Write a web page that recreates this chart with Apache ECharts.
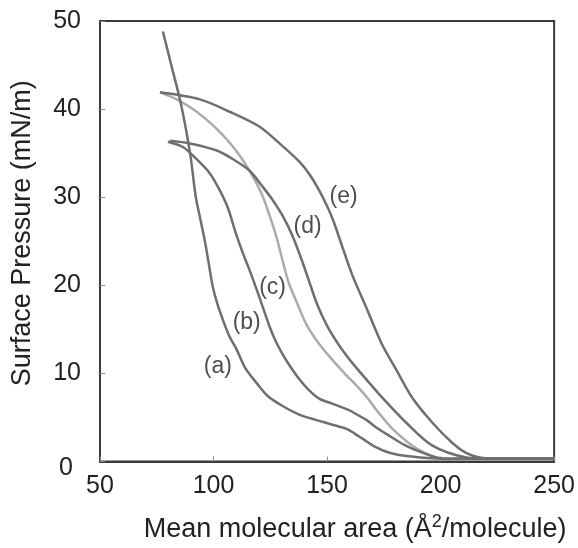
<!DOCTYPE html>
<html>
<head>
<meta charset="utf-8">
<script src="https://cdn.jsdelivr.net/npm/echarts@6/dist/echarts.min.js"></script>
<style>
  html, body { margin: 0; padding: 0; background: #fff; }
  #chart { width: 578px; height: 548px; }
</style>
</head>
<body>
<div id="chart"></div>
<script>
// isotherms: [area, pressure]
const curveA = [[77.7,48.8],[80.8,45.6],[85.2,41.1],[87.8,37.8],[90.0,34.4],[92.2,30.0],[94.2,27.5],[96.2,25.0],[98.0,22.3],[99.7,19.8],[101.8,17.8],[104.1,16.1],[107,14.2],[110.2,12.7],[114,10.6],[119,8.9],[124,7.4],[130.4,6.3],[138,5.3],[145.4,4.7],[152,4.2],[158.6,3.7],[162,3.2],[165.6,2.6],[171,1.7],[177.5,1.0],[186,0.6],[198.1,0.35],[217,0.3],[250,0.3]]
const curveB = [[79.9,36.3],[86.5,35.7],[92.2,34.4],[98.4,32.7],[102.7,30.8],[106.3,28.8],[110.2,25.6],[113,23.6],[115.9,21.7],[118.6,19.8],[121.2,17.9],[124.7,15.3],[127.5,13.6],[130.4,12.2],[134,10.7],[137.9,9.3],[142,8.1],[146.7,7.1],[152,6.6],[159.9,5.8],[164,5.2],[167.4,4.7],[172,3.8],[177.5,2.9],[184,1.9],[192.0,1.0],[200.8,0.35],[217,0.3],[250,0.3]]
const curveC = [[76.4,41.9],[83.8,41.1],[92.6,39.7],[101.4,37.75],[109.3,35.5],[115.9,33.0],[121.2,30.4],[124.7,27.9],[127.8,25.4],[130.4,22.8],[133.1,20.3],[136.6,18.1],[141.0,15.5],[145.8,13.6],[151.1,11.9],[157.7,10.0],[163.4,8.5],[167.8,7.2],[172.2,5.7],[178.8,3.7],[189.3,1.5],[200.8,0.35],[212.6,0.28],[250,0.3]]
const curveD = [[80.8,36.4],[89.6,36.1],[101.4,35.3],[109.3,34.2],[115.9,33.0],[121.6,31.2],[126.0,29.7],[130.4,27.9],[134.8,25.6],[138.8,22.9],[142.3,20.3],[145.4,18.0],[149.8,15.5],[154.2,13.6],[158.6,12.0],[163,10.6],[168,9.1],[173.1,7.6],[184.9,4.4],[196.4,1.8],[211.3,0.45],[221.4,0.3],[250,0.3]]
const curveE = [[76.4,41.9],[94,41.1],[107.1,39.7],[120.3,38.0],[130.4,35.8],[137.9,34.0],[142.5,32.5],[146.7,30.7],[150,29.0],[152.8,27.3],[156.8,24.3],[161.2,21.1],[167.4,17.4],[174,13.4],[180.5,10.4],[187.6,7.2],[196.4,4.4],[205.2,2.1],[211,1.0],[217,0.45],[225.8,0.3],[250,0.3]]

const curveNames = ['(a)', '(b)', '(c)', '(d)', '(e)']
const labelCoords = [[101.9,10.8],[114.6,15.8],[126.0,19.7],[141.4,26.7],[157.3,30.1]]

const xTicks = [50, 100, 150, 200, 250]
const yTicks = [0, 10, 20, 30, 40, 50]

const dark = '#6f6f6f'
const light = '#ababab'
const font = 'Liberation Sans'

let chart = echarts.init(document.getElementById('chart'))

function lineSeries(name, data, color) {
  return {
    name: name,
    type: 'line',
    data: data,
    showSymbol: false,
    smooth: 0.3,
    lineStyle: { color: color, width: 2.5 },
    z: 3
  }
}

let option = {
  animation: false,
  grid: {
    left: 100, right: 23, top: 21, bottom: 82,
    show: true,
    borderColor: '#3a3a3a',
    borderWidth: 2
  },
  xAxis: {
    type: 'value',
    min: xTicks[0], max: xTicks[xTicks.length - 1], interval: 50,
    name: 'Mean molecular area ({s|Å}{sup|2}/molecule)',
    nameLocation: 'middle',
    nameGap: 52,
    nameTextStyle: {
      fontFamily: font, fontSize: 27, color: '#222',
      padding: [0, 0, 0, 56],
      rich: {
        s: { fontFamily: font, fontSize: 27, color: '#222' },
        sup: { fontFamily: font, fontSize: 18, color: '#222', verticalAlign: 'bottom', padding: [0, 0, 14, 0] }
      }
    },
    axisLine: { show: true, lineStyle: { color: '#3a3a3a', width: 2 } },
    axisTick: { show: true, inside: true, length: 5, lineStyle: { color: '#888' } },
    axisLabel: { fontFamily: font, fontSize: 25, color: '#222', margin: 12 },
    splitLine: { show: false }
  },
  yAxis: {
    type: 'value',
    min: yTicks[0], max: yTicks[yTicks.length - 1], interval: 10,
    name: 'Surface Pressure (mN/m)',
    nameLocation: 'middle',
    nameGap: 64,
    nameTextStyle: { fontFamily: font, fontSize: 27, color: '#222', padding: [0, 0, 0, 16] },
    axisLine: { show: true, lineStyle: { color: '#3a3a3a', width: 2 } },
    axisTick: { show: true, inside: true, length: 5, lineStyle: { color: '#888' } },
    axisLabel: {
      fontFamily: font, fontSize: 25, color: '#222', margin: 19,
      formatter: function (v) { return v === 0 ? '{z|0}' : String(v) },
      rich: { z: { fontFamily: font, fontSize: 25, color: '#222', padding: [14, 8, 0, 0] } }
    },
    splitLine: { show: false }
  },
  series: [
    lineSeries(curveNames[2], curveC, light),
    lineSeries(curveNames[0], curveA, dark),
    lineSeries(curveNames[1], curveB, dark),
    lineSeries(curveNames[3], curveD, dark),
    lineSeries(curveNames[4], curveE, dark),
    {
      type: 'scatter',
      symbolSize: 0,
      data: curveNames.map((n, i) => ({ name: n, value: labelCoords[i] })),
      label: {
        show: true, position: 'inside', formatter: '{b}',
        fontFamily: font, fontSize: 23, color: '#222'
      },
      z: 5
    }
  ]
}
chart.setOption(option)
</script>
</body>
</html>
